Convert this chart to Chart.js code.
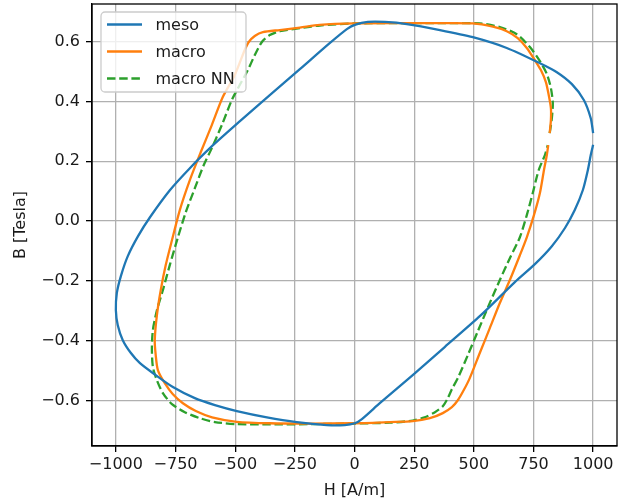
<!DOCTYPE html>
<html>
<head>
<meta charset="utf-8">
<script src="https://cdn.jsdelivr.net/npm/chart.js@4.4.1/dist/chart.umd.min.js"></script>
<style>
  html, body { margin: 0; padding: 0; background: #ffffff; }
  #wrap { width: 627px; height: 501px; }
</style>
</head>
<body>
<div id="wrap"><canvas id="c" width="627" height="501"></canvas></div>
<script>
// ---- data ----
const seriesNames = ['meso', 'macro', 'macro NN'];

const mesoH = [1000,990,961,911,848,777,638,496,358,219,127,56,1,-32,-104,-229,-355,-480,-606,-690,-773,-857,-907,-950,-979,-996,-1000,-992,-971,-937,-899,-845,-761,-669,-585,-493,-367,-242,-116,-41,1,31,106,244,378,525,672,756,827,882,923,957,978,990,1000];
const mesoB = [0.294,0.344,0.405,0.458,0.498,0.528,0.579,0.615,0.639,0.659,0.666,0.666,0.656,0.642,0.595,0.508,0.421,0.334,0.244,0.177,0.104,0.013,-0.050,-0.117,-0.184,-0.241,-0.298,-0.348,-0.398,-0.441,-0.475,-0.508,-0.555,-0.592,-0.615,-0.635,-0.656,-0.672,-0.682,-0.682,-0.676,-0.662,-0.609,-0.515,-0.421,-0.318,-0.204,-0.144,-0.084,-0.023,0.037,0.104,0.171,0.221,0.255];

const macroH = [818,823,823,814,802,781,756,722,684,638,580,496,357,190,1,-146,-229,-313,-384,-418,-443,-460,-502,-552,-598,-644,-690,-732,-765,-791,-812,-828,-837,-833,-824,-795,-761,-719,-665,-597,-493,-355,-187,-7,148,244,316,370,408,433,458,483,525,567,609,651,693,722,752,777,794,806,812];
const macroB = [0.294,0.338,0.378,0.421,0.465,0.505,0.538,0.579,0.612,0.635,0.650,0.661,0.662,0.662,0.661,0.656,0.647,0.639,0.632,0.619,0.599,0.572,0.488,0.415,0.321,0.231,0.137,0.037,-0.064,-0.147,-0.231,-0.314,-0.398,-0.448,-0.498,-0.542,-0.579,-0.609,-0.635,-0.656,-0.671,-0.676,-0.677,-0.676,-0.672,-0.669,-0.659,-0.642,-0.622,-0.599,-0.565,-0.525,-0.441,-0.358,-0.274,-0.197,-0.114,-0.054,0.020,0.094,0.171,0.221,0.254];

const nnH = [818,827,831,823,806,777,735,680,609,525,357,190,1,-146,-229,-313,-355,-388,-418,-447,-481,-514,-556,-598,-632,-669,-707,-741,-774,-803,-828,-845,-849,-845,-828,-803,-765,-711,-648,-585,-493,-355,-187,-7,148,244,294,337,370,391,408,433,475,517,563,609,651,693,722,747,772,798,810];
const nnB = [0.294,0.344,0.395,0.445,0.492,0.535,0.582,0.625,0.649,0.661,0.662,0.662,0.661,0.654,0.645,0.635,0.622,0.599,0.555,0.505,0.455,0.405,0.321,0.244,0.187,0.110,0.030,-0.057,-0.147,-0.231,-0.298,-0.365,-0.425,-0.488,-0.532,-0.575,-0.612,-0.639,-0.659,-0.672,-0.679,-0.680,-0.679,-0.677,-0.674,-0.667,-0.656,-0.639,-0.619,-0.592,-0.562,-0.525,-0.448,-0.368,-0.281,-0.197,-0.124,-0.054,0.020,0.094,0.171,0.221,0.254];

const xTicks = [-1000,-750,-500,-250,0,250,500,750,1000];
const xTickLabels = ['\u22121000','\u2212750','\u2212500','\u2212250','0','250','500','750','1000'];
const yTicks = [-0.6,-0.4,-0.2,0.0,0.2,0.4,0.6];
const yTickLabels = ['\u22120.6','\u22120.4','\u22120.2','0.0','0.2','0.4','0.6'];
const xTitle = 'H [A/m]';
const yTitle = 'B [Tesla]';

// ---- build ----
const zip = (hs, bs) => hs.map((h, i) => ({ x: h, y: bs[i] }));
const FONT = 'DejaVu Sans';
const TXT = '#1a1a1a';

const framePlugin = {
  id: 'frame',
  afterDatasetsDraw(chart) {
    const { ctx, chartArea: a } = chart;
    ctx.save();
    ctx.strokeStyle = '#000';
    ctx.lineWidth = 1.3;
    ctx.strokeRect(a.left, a.top, a.right - a.left, a.bottom - a.top);
    ctx.restore();
  }
};

const legendPlugin = {
  id: 'mplLegend',
  afterDraw(chart) {
    const { ctx } = chart;
    const x0 = 101, y0 = 12, w = 145, h = 80, r = 4;
    ctx.save();
    ctx.beginPath();
    ctx.moveTo(x0 + r, y0);
    ctx.arcTo(x0 + w, y0, x0 + w, y0 + h, r);
    ctx.arcTo(x0 + w, y0 + h, x0, y0 + h, r);
    ctx.arcTo(x0, y0 + h, x0, y0, r);
    ctx.arcTo(x0, y0, x0 + w, y0, r);
    ctx.closePath();
    ctx.fillStyle = 'rgba(255,255,255,0.8)';
    ctx.fill();
    ctx.strokeStyle = '#cccccc';
    ctx.lineWidth = 1.3;
    ctx.stroke();
    chart.data.datasets.forEach((ds, i) => {
      const y = 24.5 + i * 27;
      ctx.beginPath();
      ctx.setLineDash(ds.borderDash || []);
      ctx.strokeStyle = ds.borderColor;
      ctx.lineWidth = ds.borderWidth;
      ctx.lineCap = 'butt';
      ctx.moveTo(107, y);
      ctx.lineTo(142, y);
      ctx.stroke();
      ctx.setLineDash([]);
      ctx.fillStyle = TXT;
      ctx.font = '16px "' + FONT + '"';
      ctx.textAlign = 'left';
      ctx.textBaseline = 'middle';
      ctx.fillText(ds.label, 155.5, y + 1);
    });
    ctx.restore();
  }
};

const mkDs = (label, data, color, dash) => ({
  label, data,
  borderColor: color, backgroundColor: color,
  borderWidth: 2.3, borderDash: dash || [],
  borderJoinStyle: 'round', borderCapStyle: 'butt',
  showLine: true, pointRadius: 0, pointHoverRadius: 0,
  tension: 0.25, fill: false
});

new Chart(document.getElementById('c'), {
  type: 'scatter',
  data: {
    datasets: [
      mkDs(seriesNames[0], zip(mesoH, mesoB), '#1f77b4'),
      mkDs(seriesNames[1], zip(macroH, macroB), '#ff7f0e'),
      mkDs(seriesNames[2], zip(nnH, nnB), '#2ca02c', [8.5, 3.7])
    ]
  },
  options: {
    responsive: false,
    animation: false,
    devicePixelRatio: 1,
    layout: { padding: { left: 0, right: 10, top: 4, bottom: 0 } },
    plugins: { legend: { display: false }, tooltip: { enabled: false } },
    scales: {
      x: {
        type: 'linear', min: -1100, max: 1100,
        afterFit: s => { s.height = 55; s.paddingLeft = 0; s.paddingRight = 0; },
        afterBuildTicks: s => { s.ticks = xTicks.map(v => ({ value: v })); },
        ticks: {
          autoSkip: false, maxRotation: 0, padding: 3,
          color: TXT, font: { family: FONT, size: 16 },
          callback: (v, i) => xTickLabels[i]
        },
        grid: { color: '#b0b0b0', lineWidth: 1.3, tickColor: '#000', tickLength: 6, tickWidth: 1.3 },
        border: { color: '#000', width: 1.3 },
        title: { display: true, text: xTitle, color: TXT, font: { family: FONT, size: 16 }, padding: { top: 0, bottom: 1 } }
      },
      y: {
        type: 'linear', min: -0.752, max: 0.726,
        afterFit: s => { s.width = 92; s.paddingTop = 0; s.paddingBottom = 0; },
        afterBuildTicks: s => { s.ticks = yTicks.map(v => ({ value: v })); },
        ticks: {
          autoSkip: false, padding: 6,
          color: TXT, font: { family: FONT, size: 16 },
          callback: (v, i) => yTickLabels[i]
        },
        grid: { color: '#b0b0b0', lineWidth: 1.3, tickColor: '#000', tickLength: 6, tickWidth: 1.3 },
        border: { color: '#000', width: 1.3 },
        title: { display: true, text: yTitle, color: TXT, font: { family: FONT, size: 16 }, padding: { top: 11, bottom: 0 } }
      }
    }
  },
  plugins: [framePlugin, legendPlugin]
});
</script>
</body>
</html>
